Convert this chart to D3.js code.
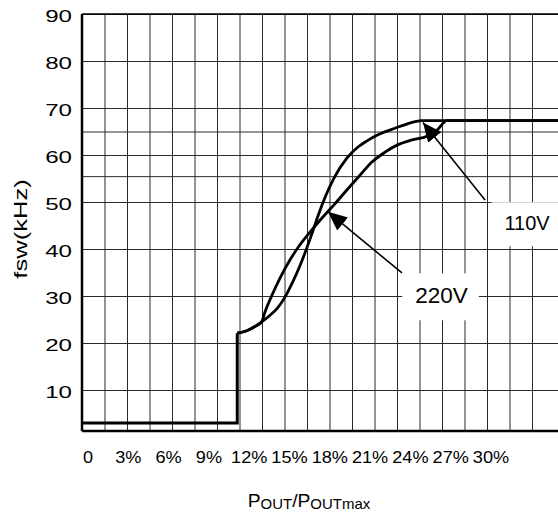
<!DOCTYPE html>
<html>
<head>
<meta charset="utf-8">
<script src="https://cdn.jsdelivr.net/npm/d3@7"></script>
<style>
  body { margin: 0; background: #fff; }
  text { font-family: "Liberation Sans", Arial, sans-serif; fill: #000; }
</style>
</head>
<body>
<div id="chart"></div>
<script>
// values: x in % of POUTmax, y in kHz
const xTickValues = [0, 3, 6, 9, 12, 15, 18, 21, 24, 27, 30];
const xTickLabels = ["0", "3%", "6%", "9%", "12%", "15%", "18%", "21%", "24%", "27%", "30%"];
const yTickValues = [10, 20, 30, 40, 50, 60, 70, 80, 90];
const yExtraGrid = [55.5, 65];

// burst floor and jump, shared by both lines
const baseX = [0, 10.35, 10.35];
const baseY = [3, 3, 22.1];

const fsw220X = [10.35, 10.98, 11.53, 11.98, 12.2, 12.67, 13.2, 13.87, 14.53, 15.2, 16.0, 16.8, 17.67, 18.53, 19.33, 20.2, 21.0, 22.0, 23.0, 23.67, 24.33, 31.8];
const fsw220Y = [22.1, 22.6, 23.5, 24.5, 26.6, 30.2, 33.8, 37.7, 40.9, 43.6, 46.6, 49.4, 52.6, 55.7, 58.5, 60.6, 62.1, 63.2, 64.0, 65.3, 67.3, 67.3];

const fsw110X = [10.35, 10.98, 11.53, 11.98, 12.5, 13.0, 13.5, 14.05, 14.55, 14.95, 15.3, 15.75, 16.27, 16.8, 17.67, 18.4, 19.0, 19.87, 20.87, 21.87, 22.65, 31.8];
const fsw110Y = [22.1, 22.6, 23.5, 24.5, 25.8, 27.3, 29.6, 33.0, 36.6, 39.9, 43.0, 47.2, 51.5, 55.1, 59.4, 61.7, 63.0, 64.5, 65.7, 66.8, 67.3, 67.3];

const noteLabels = ["220V", "110V"];
const noteTip = [[16.4, 47.9], [22.73, 66.9]];
const noteTail = [[21.33, 34.9], [26.87, 50.4]];
const noteAt = [[23.97, 28.45], [29.67, 44.0]];
const noteSize = [22.5, 20];

const W = 558, H = 512;
const yMin = 1.3;

const svg = d3.select("#chart").append("svg")
    .attr("width", W)
    .attr("height", H);

const x = d3.scaleLinear().domain([0, 31.8]).range([82, 559]);
const y = d3.scaleLinear().domain([0, 90]).range([437, 14]);
const xLabel = d3.scaleLinear().domain([0, 30]).range([88, 491]);

const plotTop = y(90), plotBottom = y(yMin);

// grid
svg.append("g")
    .attr("transform", "translate(0," + plotBottom + ")")
    .call(d3.axisBottom(x).tickValues(d3.range(1.5, 30.01, 1.5)).tickSize(-(plotBottom - plotTop)).tickFormat(""))
    .call(g => g.select(".domain").remove())
    .selectAll("line").attr("stroke", "#2a2a2a").attr("stroke-width", 1);

svg.append("g")
    .attr("transform", "translate(" + x(0) + ",0)")
    .call(d3.axisLeft(y).tickValues(yTickValues.concat(yExtraGrid)).tickSize(-(W - x(0))).tickFormat(""))
    .call(g => g.select(".domain").remove())
    .selectAll("line").attr("stroke", "#2a2a2a").attr("stroke-width", 1);

// frame
svg.append("line").attr("x1", x(0)).attr("x2", W).attr("y1", plotTop).attr("y2", plotTop)
    .attr("stroke", "#000").attr("stroke-width", 1.6);
svg.append("line").attr("x1", x(0)).attr("x2", W).attr("y1", plotBottom).attr("y2", plotBottom)
    .attr("stroke", "#000").attr("stroke-width", 2.5);
svg.append("line").attr("x1", x(0)).attr("x2", x(0)).attr("y1", plotTop).attr("y2", plotBottom)
    .attr("stroke", "#000").attr("stroke-width", 2.5);

// white label boxes over the grid
const notes = svg.append("g");
noteLabels.forEach((t, i) => {
    const g = notes.append("g");
    const txt = g.append("text")
        .attr("x", x(noteAt[i][0]))
        .attr("y", y(noteAt[i][1]))
        .attr("text-anchor", "middle")
        .style("font-size", noteSize[i] + "px")
        .text(t);
    const b = txt.node().getBBox();
    g.insert("rect", "text")
        .attr("x", b.x - 13).attr("y", b.y - 10)
        .attr("width", b.width + 24).attr("height", b.height + 22)
        .attr("fill", "#fff");
});

// curves
const step = d3.line().x(d => x(d[0])).y(d => y(d[1]));
const smooth = d3.line().x(d => x(d[0])).y(d => y(d[1])).curve(d3.curveMonotoneX);

svg.append("path")
    .attr("d", step(d3.zip(baseX, baseY)))
    .attr("fill", "none").attr("stroke", "#000").attr("stroke-width", 3);

[[fsw220X, fsw220Y], [fsw110X, fsw110Y]].forEach(s => {
    svg.append("path")
        .attr("d", smooth(d3.zip(s[0], s[1])))
        .attr("fill", "none")
        .attr("stroke", "#000")
        .attr("stroke-width", 2.8)
        .attr("stroke-linejoin", "round");
});

// arrows
svg.append("defs").append("marker")
    .attr("id", "head")
    .attr("markerUnits", "userSpaceOnUse")
    .attr("viewBox", "0 -9 19 18")
    .attr("refX", 19).attr("refY", 0)
    .attr("markerWidth", 19).attr("markerHeight", 18)
    .attr("orient", "auto")
    .append("path").attr("d", "M0,-8.5L19,0L0,8.5Z").attr("fill", "#000");

noteLabels.forEach((t, i) => {
    svg.append("line")
        .attr("x1", x(noteTail[i][0])).attr("y1", y(noteTail[i][1]))
        .attr("x2", x(noteTip[i][0])).attr("y2", y(noteTip[i][1]))
        .attr("stroke", "#000").attr("stroke-width", 1.6)
        .attr("marker-end", "url(#head)");
});

// y tick labels (drawn wide, like the original)
svg.append("g").selectAll("text")
    .data(yTickValues)
    .join("text")
    .attr("transform", d => "translate(72," + y(d) + ") scale(1.42,1)")
    .attr("dy", "0.45em")
    .attr("text-anchor", "end")
    .style("font-size", "17px")
    .text(d => d);

// x tick labels
svg.append("g").selectAll("text")
    .data(xTickValues)
    .join("text")
    .attr("transform", d => "translate(" + xLabel(d) + ",463) scale(1.1,1)")
    .attr("text-anchor", "middle")
    .style("font-size", "16.5px")
    .text((d, i) => xTickLabels[i]);

// axis titles
svg.append("text")
    .attr("transform", "translate(27,229) rotate(-90) scale(1.42,1)")
    .attr("text-anchor", "middle")
    .style("font-size", "18px")
    .text("fsw(kHz)");

const xt = svg.append("text")
    .attr("transform", "translate(309,507) scale(1.07,1)")
    .attr("text-anchor", "middle")
    .style("font-size", "18px");
xt.append("tspan").text("P");
xt.append("tspan").attr("dy", 2).style("font-size", "14px").text("OUT");
xt.append("tspan").attr("dy", -2).text("/P");
xt.append("tspan").attr("dy", 2).style("font-size", "14px").text("OUTmax");
</script>
</body>
</html>
